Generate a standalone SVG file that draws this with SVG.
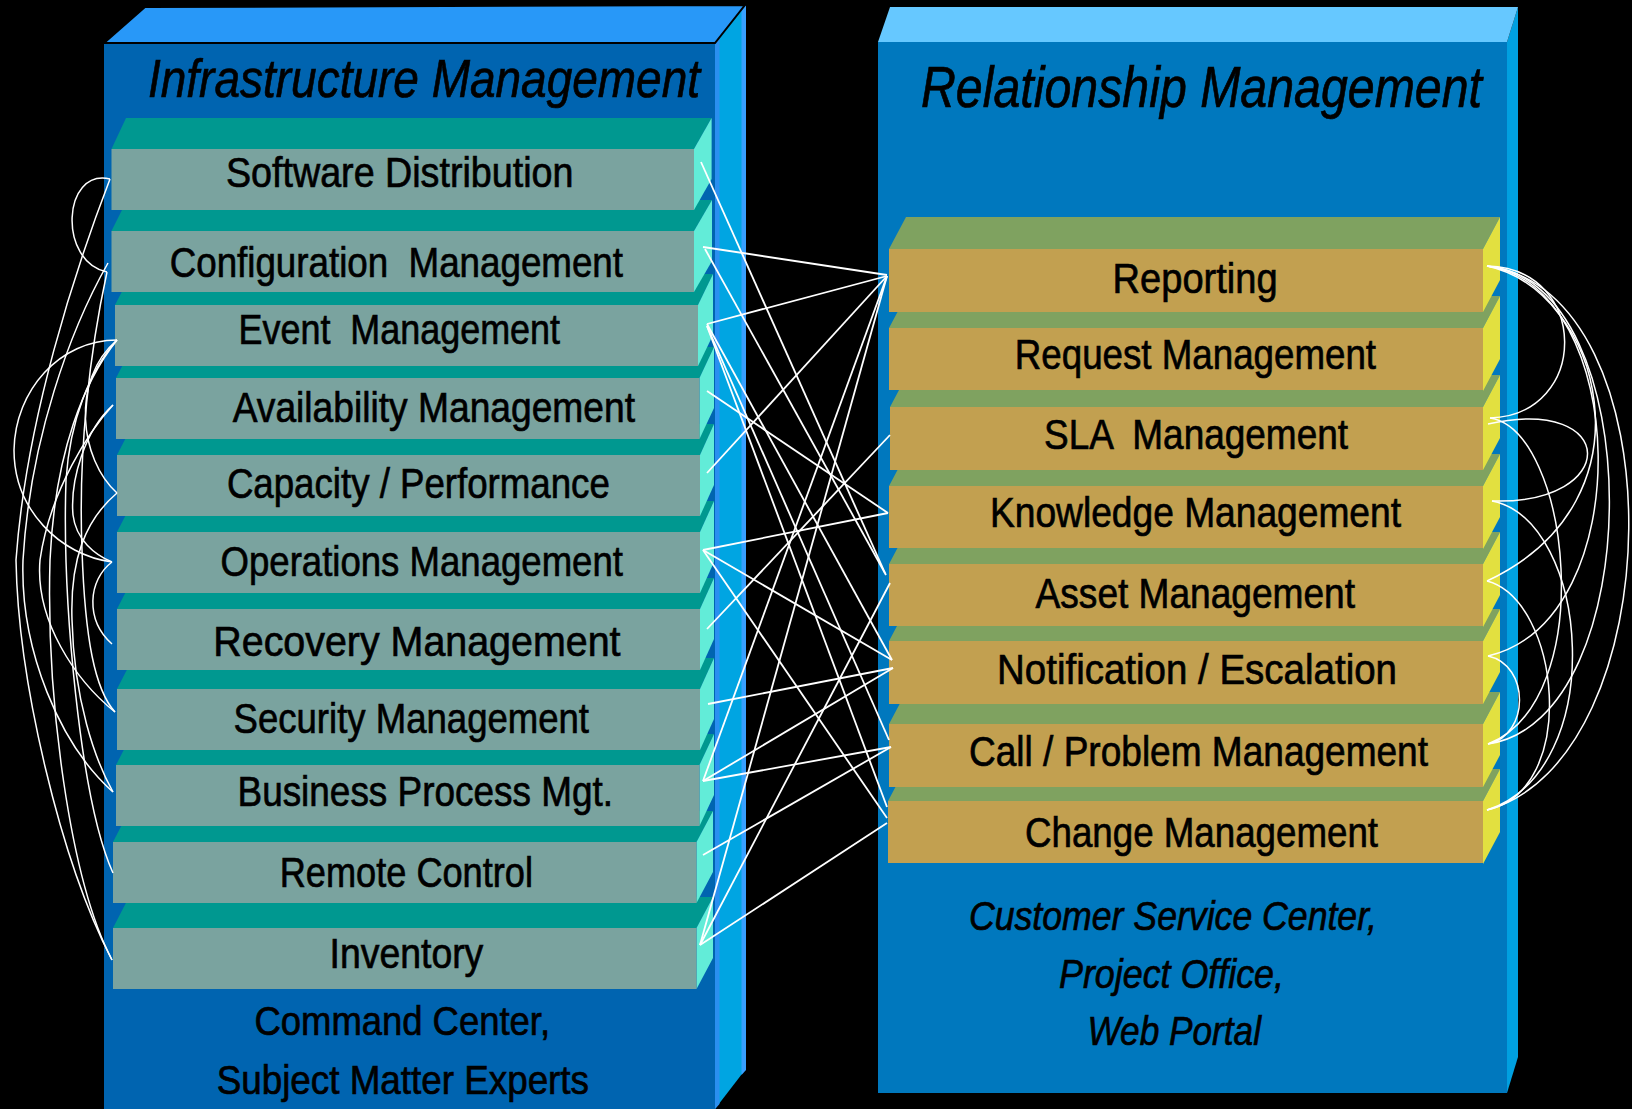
<svg xmlns="http://www.w3.org/2000/svg" width="1632" height="1109" viewBox="0 0 1632 1109">
<style>
.lf{fill:#7aa39f}.lt{fill:#009890}.lr{fill:#62ecd8}
.rf{fill:#c2a050}.rt{fill:#7fa260}.rr{fill:#e2e040}
.t{font-family:"Liberation Sans",Arial,sans-serif;font-size:43px;fill:#000;stroke:#000;stroke-width:0.7}
.ti{font-family:"Liberation Sans",Arial,sans-serif;font-style:italic;fill:#000;stroke:#000;stroke-width:0.7}
.ln{stroke:#fff;fill:none;stroke-width:1.8}
.cv{stroke:#fff;fill:none;stroke-width:1.5}
</style>
<rect width="1632" height="1109" fill="#000"/>
<g id="infrastructure-box">
<rect x="104" y="43" width="611" height="1070" fill="#0064b0"/>
<polygon points="715,43 745,5 745,1070 715,1109" fill="#00a5e2"/>
<polygon points="715,43 719.5,38 719.5,1104 715,1109" fill="#2a8ff0"/>
<polygon points="741.5,10 746,5 746,1070 741.5,1075" fill="#38a0ff"/>
<polygon points="104,43 145,7 745,5 715,43" fill="#2898f8" stroke="#000" stroke-width="2"/>
<text class="ti" x="148" y="97" font-size="54" textLength="552" lengthAdjust="spacingAndGlyphs">Infrastructure Management</text>
<text class="t" x="254.5" y="1035" style="font-size:40px" textLength="295.5" lengthAdjust="spacingAndGlyphs">Command Center,</text>
<text class="t" x="216.7" y="1094" style="font-size:40px" textLength="372.3" lengthAdjust="spacingAndGlyphs">Subject Matter Experts</text>
</g>
<g id="relationship-box">
<rect x="878" y="42" width="629" height="1051" fill="#0078be"/>
<polygon points="1507,42 1518,7 1518,1057 1507,1093" fill="#00a0e0"/>
<polygon points="878,42 890,7 1518,7 1507,42" fill="#66c8ff"/>
<text class="ti" x="921" y="107" font-size="57" textLength="561" lengthAdjust="spacingAndGlyphs">Relationship Management</text>
<text class="ti" x="969" y="930" font-size="41" textLength="408" lengthAdjust="spacingAndGlyphs">Customer Service Center,</text>
<text class="ti" x="1059" y="988" font-size="41" textLength="225" lengthAdjust="spacingAndGlyphs">Project Office,</text>
<text class="ti" x="1087.5" y="1045" font-size="41" textLength="173.5" lengthAdjust="spacingAndGlyphs">Web Portal</text>
</g>
<g id="left-items">
<g id="inventory">
<polygon class="lt" points="113,928 129,897 713,897 696.5,928"/>
<polygon class="lr" points="696.5,928 713,897 713,958 696.5,989"/>
<rect class="lf" x="113" y="928" width="583.5" height="61"/>
<text class="t" x="329.6" y="968" textLength="153.7" lengthAdjust="spacingAndGlyphs">Inventory</text>
</g>
<g id="remote-control">
<polygon class="lt" points="113,842 129,811 713,811 696.5,842"/>
<polygon class="lr" points="696.5,842 713,811 713,872 696.5,903"/>
<rect class="lf" x="113" y="842" width="583.5" height="61"/>
<text class="t" x="279.7" y="887" textLength="253.3" lengthAdjust="spacingAndGlyphs">Remote Control</text>
</g>
<g id="business-process">
<polygon class="lt" points="116,765 132,734 714,734 699.5,765"/>
<polygon class="lr" points="699.5,765 714,734 714,795 699.5,826"/>
<rect class="lf" x="116" y="765" width="583.5" height="61"/>
<text class="t" x="237.5" y="806" textLength="375.5" lengthAdjust="spacingAndGlyphs">Business Process Mgt.</text>
</g>
<g id="security">
<polygon class="lt" points="117,689 133,658 714,658 700,689"/>
<polygon class="lr" points="700,689 714,658 714,719 700,750"/>
<rect class="lf" x="117" y="689" width="583" height="61"/>
<text class="t" x="233.6" y="733" textLength="355.4" lengthAdjust="spacingAndGlyphs">Security Management</text>
</g>
<g id="recovery">
<polygon class="lt" points="117,609 133,578 714,578 700,609"/>
<polygon class="lr" points="700,609 714,578 714,639 700,670"/>
<rect class="lf" x="117" y="609" width="583" height="61"/>
<text class="t" x="213.3" y="656" textLength="407.2" lengthAdjust="spacingAndGlyphs">Recovery Management</text>
</g>
<g id="operations">
<polygon class="lt" points="117,532 133,501 714,501 700,532"/>
<polygon class="lr" points="700,532 714,501 714,562 700,593"/>
<rect class="lf" x="117" y="532" width="583" height="61"/>
<text class="t" x="220.6" y="576" textLength="402.3" lengthAdjust="spacingAndGlyphs">Operations Management</text>
</g>
<g id="capacity">
<polygon class="lt" points="117,455 133,424 714,424 700,455"/>
<polygon class="lr" points="700,455 714,424 714,485 700,516"/>
<rect class="lf" x="117" y="455" width="583" height="61"/>
<text class="t" x="226.9" y="498" textLength="382.9" lengthAdjust="spacingAndGlyphs">Capacity / Performance</text>
</g>
<g id="availability">
<polygon class="lt" points="116,378 132,347 714,347 699.5,378"/>
<polygon class="lr" points="699.5,378 714,347 714,408 699.5,439"/>
<rect class="lf" x="116" y="378" width="583.5" height="61"/>
<text class="t" x="232.7" y="422" textLength="402.3" lengthAdjust="spacingAndGlyphs">Availability Management</text>
</g>
<g id="event">
<polygon class="lt" points="115,305 131,274 713,274 698,305"/>
<polygon class="lr" points="698,305 713,274 713,335 698,366"/>
<rect class="lf" x="115" y="305" width="583" height="61"/>
<text class="t" x="238.5" y="344" textLength="321.5" lengthAdjust="spacingAndGlyphs" xml:space="preserve">Event  Management</text>
</g>
<g id="configuration">
<polygon class="lt" points="111.5,231 127,200 712,200 694,231"/>
<polygon class="lr" points="694,231 712,200 712,261 694,292"/>
<rect class="lf" x="111.5" y="231" width="582.5" height="61"/>
<text class="t" x="169.7" y="277" textLength="453.3" lengthAdjust="spacingAndGlyphs" xml:space="preserve">Configuration  Management</text>
</g>
<g id="software-distribution">
<polygon class="lt" points="111.5,149 126,118 711.6,118 694,149"/>
<polygon class="lr" points="694,149 711.6,118 711.6,179 694,210"/>
<rect class="lf" x="111.5" y="149" width="582.5" height="61"/>
<text class="t" x="226" y="187" textLength="347.4" lengthAdjust="spacingAndGlyphs">Software Distribution</text>
</g>
</g>
<g id="right-items">
<g id="change">
<polygon class="rt" points="888,801 905,769 1500,769 1483,801"/>
<polygon class="rr" points="1483,801 1500,769 1500,832 1483,864"/>
<rect class="rf" x="888" y="801" width="595" height="62"/>
<text class="t" x="1025" y="847" textLength="353" lengthAdjust="spacingAndGlyphs">Change Management</text>
</g>
<g id="call-problem">
<polygon class="rt" points="889,724 906,692 1500,692 1483,724"/>
<polygon class="rr" points="1483,724 1500,692 1500,755 1483,787"/>
<rect class="rf" x="889" y="724" width="594" height="63"/>
<text class="t" x="969" y="766" textLength="459" lengthAdjust="spacingAndGlyphs">Call / Problem Management</text>
</g>
<g id="notification">
<polygon class="rt" points="889,641 906,609 1500,609 1483,641"/>
<polygon class="rr" points="1483,641 1500,609 1500,672 1483,704"/>
<rect class="rf" x="889" y="641" width="594" height="63"/>
<text class="t" x="997" y="684" textLength="400" lengthAdjust="spacingAndGlyphs">Notification / Escalation</text>
</g>
<g id="asset">
<polygon class="rt" points="889,564 906,532 1500,532 1483,564"/>
<polygon class="rr" points="1483,564 1500,532 1500,595 1483,627"/>
<rect class="rf" x="889" y="564" width="594" height="62"/>
<text class="t" x="1035.6" y="608" textLength="319.4" lengthAdjust="spacingAndGlyphs">Asset Management</text>
</g>
<g id="knowledge">
<polygon class="rt" points="889,486 906,454 1500,454 1483,486"/>
<polygon class="rr" points="1483,486 1500,454 1500,517 1483,549"/>
<rect class="rf" x="889" y="486" width="594" height="62"/>
<text class="t" x="990" y="527" textLength="411" lengthAdjust="spacingAndGlyphs">Knowledge Management</text>
</g>
<g id="sla">
<polygon class="rt" points="890,407 907,375 1500,375 1483,407"/>
<polygon class="rr" points="1483,407 1500,375 1500,438 1483,470"/>
<rect class="rf" x="890" y="407" width="593" height="63"/>
<text class="t" x="1044" y="449" textLength="304" lengthAdjust="spacingAndGlyphs" xml:space="preserve">SLA  Management</text>
</g>
<g id="request">
<polygon class="rt" points="889,328 906,296 1500,296 1483,328"/>
<polygon class="rr" points="1483,328 1500,296 1500,359 1483,391"/>
<rect class="rf" x="889" y="328" width="594" height="62"/>
<text class="t" x="1014.8" y="369" textLength="361.2" lengthAdjust="spacingAndGlyphs">Request Management</text>
</g>
<g id="reporting">
<polygon class="rt" points="889,249 906,217 1500,217 1483,249"/>
<polygon class="rr" points="1483,249 1500,217 1500,280 1483,312"/>
<rect class="rf" x="889" y="249" width="594" height="63"/>
<text class="t" x="1112.6" y="293" textLength="165" lengthAdjust="spacingAndGlyphs">Reporting</text>
</g>
</g>
<g id="connectors">
<g class="ln">
<path d="M701,162 L885,573"/>
<path d="M703,247 L887,275"/>
<path d="M705,249 L886,575"/>
<path d="M707,324 L887,276"/>
<path d="M707,324 L892,660"/>
<path d="M707,326 L889,740"/>
<path d="M707,326 L887,807"/>
<path d="M707,391 L888,513"/>
<path d="M707,473 L887,276"/>
<path d="M703,550 L888,513"/>
<path d="M703,550 L892,660"/>
<path d="M703,550 L887,818"/>
<path d="M707,629 L890,435"/>
<path d="M708,704 L893,668"/>
<path d="M703,781 L893,668"/>
<path d="M703,781 L891,747"/>
<path d="M703,781 L887,276"/>
<path d="M703,855 L891,747"/>
<path d="M700,945 L887,276"/>
<path d="M700,945 L890,583"/>
<path d="M700,945 L887,823"/>
</g>
<g class="cv">
<path d="M110,179 C62,168 58,262 107,272"/>
<path d="M110,179 C75,270 26,420 16,560 C18,680 60,860 112,960"/>
<path d="M108,263 C70,330 30,440 23,560 C20,650 60,745 113,792"/>
<path d="M117,340 C60,340 15,390 14,450 C14,510 60,555 112,562"/>
<path d="M117,340 C90,370 70,420 66,480 C62,600 80,800 113,873"/>
<path d="M117,340 C85,380 55,450 50,560 C46,700 70,880 112,960"/>
<path d="M113,405 C90,430 50,490 40,560 C35,620 75,680 115,712"/>
<path d="M113,405 C85,430 70,480 73,515 C76,540 95,555 112,562"/>
<path d="M117,493 C80,460 70,380 117,340"/>
<path d="M112,562 C88,580 85,620 112,644"/>
<path d="M107,272 C90,350 78,450 82,550 C85,640 95,690 115,712"/>
<path d="M117,493 C85,520 70,560 72,620 C74,700 95,760 113,792"/>
<path d="M1487,266 C1590,268 1590,415 1490,418"/>
<path d="M1488,424 C1620,395 1620,505 1492,501"/>
<path d="M1487,266 C1680,290 1672,760 1487,810"/>
<path d="M1487,266 C1650,280 1650,720 1488,744"/>
<path d="M1487,266 C1630,285 1640,620 1488,656"/>
<path d="M1487,266 C1600,290 1660,500 1487,581"/>
<path d="M1490,418 C1570,430 1600,700 1488,744"/>
<path d="M1492,501 C1590,520 1610,770 1487,810"/>
<path d="M1487,581 C1560,600 1580,790 1487,810"/>
<path d="M1488,656 C1530,665 1530,735 1488,744"/>
</g>
</g>
</svg>
